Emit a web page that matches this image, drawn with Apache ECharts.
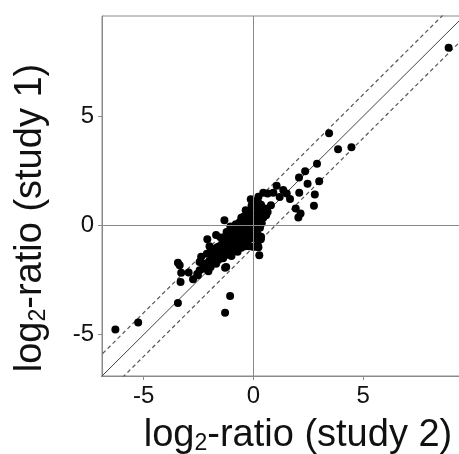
<!DOCTYPE html>
<html>
<head>
<meta charset="utf-8">
<script src="https://cdn.jsdelivr.net/npm/echarts@6/dist/echarts.min.js"></script>
<style>
  html, body { margin: 0; padding: 0; background: #fff; }
  #chart { width: 459px; height: 454px; }
</style>
</head>
<body>
<div id="chart"></div>
<script>
// axis ranges (both axes share the same span)
const axisMin = -6.9;
const axisMax = 9.6;
const tickValues = [-5, 0, 5];

// reference lines y = x + offset
const diagOffsets = [0, 1, -1];
const diagEnds = [-8, 11];

// isolated points [study 2, study 1]
const outerPoints = [
  [8.9, 8.15], [3.45, 4.23], [3.86, 3.49], [4.47, 3.59], [2.9, 2.83], [2.36, 2.49],
  [2.08, 2.2], [3.0, 2.03], [2.47, 1.91], [1.06, 1.82], [2.09, 1.5], [2.8, 1.42],
  [1.36, 1.62], [1.52, 1.47], [1.67, 1.21], [1.2, 1.3], [2.76, 0.9], [1.93, 0.78],
  [2.15, 0.55], [2.05, 0.37], [0.45, 1.5], [0.23, 1.31], [0.91, 1.5], [0.65, 1.47],
  [0.8, 0.93], [0.65, 0.62], [0.58, 0.47], [0.34, -0.63], [0.08, -0.98], [0.23, -1.0],
  [0.27, -1.36], [-1.06, -3.23], [-1.29, -4.0], [-3.44, -3.55], [-3.44, -1.71],
  [-3.36, -1.82], [-3.29, -2.17], [-3.32, -2.59], [-2.95, -2.16], [-2.75, -2.46],
  [-2.56, -2.23], [-2.1, -0.63], [-1.7, -0.44], [-2.0, -0.95], [-1.29, -1.94],
  [-1.32, 0.24], [-1.16, -0.37], [-6.29, -4.77], [-5.25, -4.45], [-1.92, -1.06],
  [-2.38, -1.44], [-2.45, -1.67], [-2.23, -1.82], [-2.53, -2.28], [-1.24, -1.9],
  [0.2, -0.9], [0.35, -0.52], [-0.03, -0.98]
];

// dense cluster around the origin
const clusterPoints = [
  [-0.52, -0.31], [-0.41, -0.12], [-0.63, -0.45], [-0.28, -0.05], [-0.75, -0.22],
  [-0.18, 0.12], [-0.35, 0.28], [-0.9, -0.58], [-1.05, -0.71], [-0.68, -0.82],
  [-0.11, -0.35], [0.02, 0.05], [-0.22, -0.48], [-0.47, -0.66], [-0.84, -0.38],
  [-1.18, -0.92], [-0.96, -1.1], [-1.33, -1.05], [-1.41, -0.78], [-0.57, 0.06],
  [-0.05, 0.31], [0.11, 0.42], [-0.3, 0.52], [-0.14, 0.66], [0.06, 0.18],
  [0.15, -0.14], [-0.02, -0.22], [-0.38, -0.95], [-0.72, -1.2], [-1.5, -1.22],
  [-1.62, -1.38], [-1.78, -1.15], [-1.25, -1.35], [-1.88, -1.52], [-2.02, -1.64],
  [-1.7, -1.75], [-2.12, -1.3], [-1.95, -1.9], [-2.3, -1.98], [-1.55, -0.95],
  [-0.85, -0.05], [-1.0, -0.3], [-0.62, 0.15], [-0.45, 0.4], [0.25, 0.25],
  [0.3, 0.62], [0.12, 0.85], [-0.08, 0.92], [0.38, 0.1], [0.2, -0.42],
  [-0.25, -0.72], [-0.55, -1.02], [-0.9, -0.85], [-1.12, -0.52], [-1.3, -0.6],
  [-0.78, -0.62], [-0.36, -0.5], [-0.15, -0.18], [0.05, -0.6], [-0.48, 0.02],
  [-0.68, -0.1], [-0.98, -0.15], [-0.22, 0.48], [-0.4, -0.28], [-0.58, -0.55],
  [-0.82, -1.0], [-1.08, -1.22], [-1.38, -1.5], [-1.6, -1.58], [-1.2, -0.8],
  [-0.7, -0.35], [-0.3, -0.2], [0.0, 0.0], [-0.12, 0.02], [-0.25, 0.15],
  [-0.6, -0.2], [-0.88, -0.48], [-1.45, -1.1], [-2.2, -1.75], [-1.85, -1.25],
  [-1.65, -1.0], [-0.5, -0.78], [-0.2, -0.95], [0.1, -0.3], [0.3, -0.1],
  [0.45, 0.35], [0.52, 0.78], [0.18, 0.55], [-0.05, 0.45], [-0.95, -0.65],
  [-1.15, -1.0], [-0.32, -0.6], [-0.75, -0.95], [-1.0, -1.4], [-1.7, -1.45],
  [-2.45, -2.05], [-2.05, -2.1], [-0.42, 0.12], [-0.65, -0.7], [-0.1, -0.5],
  [0.08, -0.1], [0.28, 0.4], [-0.35, 0.7], [-0.55, 0.35], [-0.8, 0.05],
  [-1.05, -0.05], [-1.22, -0.3], [-1.48, -0.55], [-1.35, -0.9], [-1.9, -1.7],
  [0.05, 1.1], [0.22, 1.05], [-0.12, 1.2], [0.35, 0.95]
];

const FONT = 'Liberation Sans, Arial, sans-serif';
const AXIS_GRAY = '#8a8a8a';

const chart = echarts.init(document.getElementById('chart'));

function axisName(study) {
  return 'log{sub|2}-ratio (study ' + study + ')';
}

function nameStyle(pad) {
  return {
    fontFamily: FONT,
    fontSize: 38,
    color: '#111',
    padding: pad,
    rich: {
      sub: { fontFamily: FONT, fontSize: 23, color: '#111', verticalAlign: 'bottom', lineHeight: 30 }
    }
  };
}

function makeAxis(study, gap, pad) {
  return {
    type: 'value',
    min: axisMin,
    max: axisMax,
    name: axisName(study),
    nameLocation: 'middle',
    nameGap: gap,
    nameTextStyle: nameStyle(pad),
    axisLine: { onZero: false, lineStyle: { color: AXIS_GRAY, width: 1 } },
    axisTick: { show: true, length: 4, inside: false, customValues: tickValues, lineStyle: { color: AXIS_GRAY } },
    axisLabel: { customValues: tickValues, fontFamily: FONT, fontSize: 24, color: '#111', margin: 8 },
    splitLine: { show: false }
  };
}

const diagSeries = diagOffsets.map(function (off) {
  return {
    type: 'line',
    data: diagEnds.map(function (v) { return [v, v + off]; }),
    symbol: 'none',
    silent: true,
    clip: true,
    lineStyle: off === 0
      ? { color: '#444', width: 1 }
      : { color: '#555', width: 1.2, type: [4, 3] },
    z: 1
  };
});

chart.setOption({
  animation: false,
  backgroundColor: '#fff',
  grid: {
    left: 102, top: 16, width: 362, height: 360,
    outerBoundsMode: 'none',
    show: true, borderColor: AXIS_GRAY, borderWidth: 1, backgroundColor: 'transparent'
  },
  xAxis: makeAxis(2, 41, [0, 0, 0, 30]),
  yAxis: makeAxis(1, 52, [0, 0, 0, -44]),
  series: diagSeries.concat([
    {
      type: 'scatter',
      data: outerPoints.concat(clusterPoints),
      symbol: 'circle',
      symbolSize: 8,
      itemStyle: { color: '#000', opacity: 1 },
      z: 3,
      markLine: {
        silent: true,
        symbol: 'none',
        label: { show: false },
        lineStyle: { color: AXIS_GRAY, width: 1, type: 'solid' },
        data: [{ xAxis: 0 }, { yAxis: 0 }]
      }
    }
  ])
});
</script>
</body>
</html>
